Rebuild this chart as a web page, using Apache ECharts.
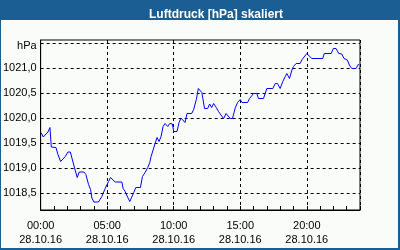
<!DOCTYPE html>
<html><head><meta charset="utf-8">
<script src="https://cdn.jsdelivr.net/npm/echarts@6/dist/echarts.min.js"></script>
<style>html,body{margin:0;padding:0;background:#fafcfa}#c{width:400px;height:250px}</style>
</head><body><div id="c"></div>
<script>
const chartTitle = 'Luftdruck [hPa] skaliert';
const dateLabel = '28.10.16';
const unitLabel = 'hPa';
const yTickValues = [1018.5, 1019.0, 1019.5, 1020.0, 1020.5, 1021.0, 1021.5];
const minutes = [3,12,21,33,42,45,48,69,78,90,99,111,123,134,141,153,165,174,195,204,216,225,231,240,261,276,291,306,315,324,336,366,372,381,393,402,411,420,429,450,459,471,483,492,498,507,516,525,534,543,552,561,573,582,594,600,615,624,633,642,651,660,681,690,702,711,727,735,739,753,762,771,780,792,802,813,825,836,845,855,865,878,888,900,908,933,942,951,960,975,982,1005,1020,1047,1058,1068,1080,1092,1103,1110,1122,1133,1140,1152,1170,1179,1188,1200,1207,1223,1272,1279,1310,1320,1332,1344,1358,1368,1383,1392,1403,1422,1434];
const pressure = [1019.70,1019.62,1019.62,1019.72,1019.81,1019.80,1019.42,1019.41,1019.27,1019.13,1019.14,1019.23,1019.32,1019.32,1019.20,1019.00,1018.81,1018.92,1018.92,1018.87,1018.67,1018.57,1018.40,1018.32,1018.32,1018.43,1018.59,1018.73,1018.81,1018.79,1018.72,1018.72,1018.59,1018.53,1018.41,1018.33,1018.33,1018.51,1018.61,1018.61,1018.83,1018.91,1019.01,1019.11,1019.23,1019.36,1019.49,1019.61,1019.53,1019.63,1019.83,1019.89,1019.83,1019.89,1019.88,1019.73,1019.73,1019.91,1020.00,1020.00,1019.91,1020.09,1020.09,1020.17,1020.37,1020.59,1020.51,1020.51,1020.19,1020.19,1020.28,1020.21,1020.29,1020.21,1020.13,1020.06,1019.99,1020.09,1020.09,1019.99,1019.99,1020.21,1020.31,1020.37,1020.31,1020.31,1020.39,1020.39,1020.49,1020.49,1020.39,1020.39,1020.59,1020.59,1020.69,1020.69,1020.59,1020.73,1020.83,1020.89,1020.79,1020.96,1021.03,1021.09,1021.09,1021.17,1021.19,1021.29,1021.31,1021.19,1021.19,1021.29,1021.29,1021.39,1021.39,1021.29,1021.28,1021.19,1021.16,1021.06,1020.99,1020.99,1021.08];

const FONT = 'Liberation Sans';
const chart = echarts.init(document.getElementById('c'), null, {renderer: 'canvas'});
const data = minutes.map((m, i) => [m, pressure[i]]);
const pad = n => (n < 10 ? '0' : '') + n;

chart.setOption({
  animation: false,
  backgroundColor: '#fafcfa',
  graphic: [
    {type: 'rect', left: 0, top: 0, shape: {width: 400, height: 20}, style: {fill: '#1b5e93'}, silent: true},
    {type: 'rect', left: 0, top: 0, shape: {width: 1, height: 250}, style: {fill: '#1b5e93'}, silent: true},
    {type: 'rect', left: 398, top: 0, shape: {width: 2, height: 250}, style: {fill: '#1b5e93'}, silent: true},
    {type: 'rect', left: 0, top: 248, shape: {width: 400, height: 2}, style: {fill: '#1b5e93'}, silent: true}
  ],
  title: {
    text: chartTitle, left: 211, top: 3, textAlign: 'center',
    textStyle: {color: '#ffffff', fontFamily: FONT, fontSize: 12, fontWeight: 'bold', lineHeight: 14}
  },
  grid: {left: 40, right: 40, top: 40, bottom: 40, show: true, borderColor: '#000', borderWidth: 1, backgroundColor: 'transparent', containLabel: false},
  xAxis: [{
    type: 'value', min: 0, max: 1440, interval: 300, position: 'bottom',
    axisLine: {show: true, lineStyle: {color: '#000', width: 1}},
    axisTick: {show: false},
    splitLine: {show: true, lineStyle: {color: '#000', type: [3, 3], width: 1}},
    axisLabel: {
      color: '#000', fontFamily: FONT, fontSize: 11, lineHeight: 14, margin: 9,
      formatter: v => v >= 1440 ? '' : pad(Math.floor(v / 60)) + ':' + pad(v % 60) + '\n' + dateLabel
    }
  }, {
    type: 'value', min: 0, max: 1440, interval: 60, position: 'bottom',
    axisLine: {show: false},
    axisTick: {show: true, inside: true, length: 4, lineStyle: {color: '#000'}},
    splitLine: {show: false},
    axisLabel: {show: false}
  }],
  yAxis: {
    type: 'value', min: 1018.16, max: 1021.56,
    axisLine: {show: true, lineStyle: {color: '#000', width: 1}},
    axisTick: {show: false, customValues: yTickValues},
    splitLine: {show: true, lineStyle: {color: '#000', type: [3, 3], width: 1}},
    axisLabel: {
      customValues: yTickValues,
      color: '#000', fontFamily: FONT, fontSize: 11, margin: 4,
      formatter: v => Math.abs(v - 1021.5) < 1e-6 ? '{u|' + unitLabel + '}' : v.toFixed(1).replace('.', ','),
      rich: {u: {color: '#000', fontFamily: FONT, fontSize: 11, padding: [5, 0, 0, 0]}}
    }
  },
  series: [{
    type: 'line', xAxisIndex: 0, yAxisIndex: 0, data: data, showSymbol: false, symbol: 'none',
    lineStyle: {color: '#0000ff', width: 1}, clip: true
  }]
});
</script></body></html>
